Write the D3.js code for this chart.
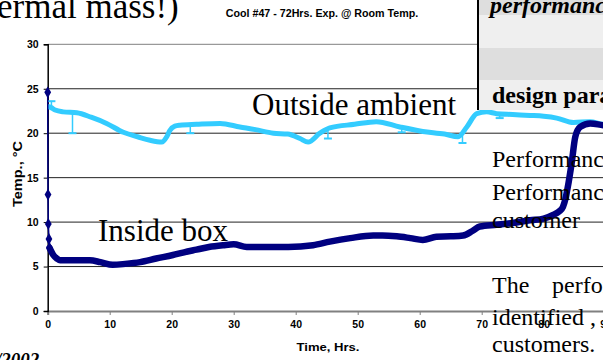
<!DOCTYPE html>
<html><head><meta charset="utf-8">
<script src="https://cdn.jsdelivr.net/npm/d3@7"></script>
<style>html,body{margin:0;padding:0;background:#fff;overflow:hidden}</style>
</head><body>
<svg id="c" width="603" height="360"></svg>
<script>
// ---- data ----
const title = "Cool #47 - 72Hrs. Exp. @ Room Temp.";
const xTicks = [0,10,20,30,40,50,60,70,80,90,100];
const yTicks = [0,5,10,15,20,25,30];
const outsideT = [0,0.5,1.2,2.5,4.7,7,9.5,12.2,14.5,16.5,18.4,19.2,19.7,20.5,21.3,24,27.8,31,33.5,36.4,38.7,40.7,42,43.9,45.5,49.5,53,56.8,60.5,64,66.2,67.6,69.2,70.8,72.4,75,77.8,80,82.1,84.8,87.5,89.6,92,95];
const outsideV = [23.0,22.9,22.6,22.4,22.3,21.8,21.1,20.1,19.6,19.2,19.0,19.6,20.3,20.8,20.9,21.0,21.1,20.7,20.4,20.0,19.9,19.4,19.0,20.0,20.6,21.0,21.3,20.7,20.2,19.9,19.6,20.7,22.2,22.4,22.2,22.1,22.0,21.9,21.7,21.2,21.3,21.0,21.0,21.0];
const errT    = [0.6,4,23,45.2,57.1,66.9,72.9];
const errFrom = [23.0,22.3,20.9,20.4,20.8,19.7,22.2];
const errTo   = [23.6,20.0,20.0,19.4,20.1,18.9,21.7];
const insideT = [0,0.05,0.1,0.2,0.3,0.5,0.9,1.5,2,4,6.8,8.5,10.5,12.5,14.9,17.5,20.2,22,24,26,28.3,30,32.1,35,38.8,42.8,45.5,48.8,52.5,54,56.3,58.5,60.5,62.7,65,67,68.5,69.7,72.4,75,77.8,80,81.5,82.5,83.1,83.5,83.9,84.5,85.1,85.9,87.5,89.6,92,95];
const insideV = [24.6,13.1,9.8,8.1,7.1,6.8,6.3,5.9,5.7,5.7,5.7,5.5,5.2,5.3,5.5,5.9,6.3,6.6,6.9,7.2,7.4,7.5,7.2,7.2,7.2,7.4,7.8,8.2,8.5,8.5,8.4,8.2,8.0,8.35,8.4,8.5,9.0,9.5,9.7,9.9,10.2,10.4,10.8,11.2,11.7,12.6,14.0,16.6,19.6,20.7,21.1,20.9,20.8,20.7];
const markerCount = 5;
const labelOutside = "Outside ambient";
const labelInside = "Inside box";

// ---- layout ----
const svg = d3.select("#c");
const x = d3.scaleLinear().domain([0,100]).range([47.7,667.7]);
const y = d3.scaleLinear().domain([0,30]).range([311,44.3]);
const sans = "'Liberation Sans', Arial, sans-serif";
const serif = "'Liberation Serif', 'Times New Roman', serif";
const navy = "#000080", cyan = "#33CCFF";

// gridlines
svg.append("g").selectAll("line").data(yTicks.filter(d=>d>0)).join("line")
  .attr("x1", x(0)).attr("x2", x(100)).attr("y1", d=>y(d)).attr("y2", d=>y(d))
  .attr("stroke", d=>d===30?"#808080":"#222").attr("stroke-width",1);

// axes
const gx = svg.append("g").attr("transform",`translate(0,${y(0)})`)
  .call(d3.axisBottom(x).tickValues(xTicks).tickSize(4).tickPadding(6));
gx.select(".domain").attr("stroke","#808080").attr("stroke-width",2);
gx.selectAll(".tick line").attr("stroke","#808080");
gx.selectAll("text").attr("font-family",sans).attr("font-weight","bold").attr("font-size",10.5).attr("fill","#000");
const gy = svg.append("g").attr("transform",`translate(${x(0)},0)`)
  .call(d3.axisLeft(y).tickValues(yTicks).tickSize(4).tickPadding(5));
gy.select(".domain").attr("stroke","#000").attr("stroke-width",1.5);
gy.selectAll(".tick line").attr("stroke","#000");
gy.selectAll("text").attr("font-family",sans).attr("font-weight","bold").attr("font-size",10.5).attr("fill","#000");

// titles
svg.append("text").attr("x",322).attr("y",17).attr("text-anchor","middle")
  .attr("font-family",sans).attr("font-weight","bold").attr("font-size",10.7).text(title);
svg.append("text").attr("transform","translate(22,174) rotate(-90)").attr("text-anchor","middle")
  .attr("font-family",sans).attr("font-weight","bold").attr("font-size",12.5)
  .attr("textLength",66).attr("lengthAdjust","spacingAndGlyphs").text("Temp., °C");
svg.append("text").attr("x",328).attr("y",351).attr("text-anchor","middle")
  .attr("font-family",sans).attr("font-weight","bold").attr("font-size",11.5)
  .attr("textLength",63).attr("lengthAdjust","spacingAndGlyphs").text("Time, Hrs.");

// outside series
const lineO = d3.line().x((d,i)=>x(outsideT[i])).y(d=>y(d)).curve(d3.curveMonotoneX);
svg.append("path").attr("d",lineO(outsideV)).attr("fill","none").attr("stroke",cyan)
  .attr("stroke-width",5).attr("stroke-linejoin","round");
const eb = svg.append("g").attr("stroke",cyan).attr("stroke-width",1.5);
errT.forEach((t,i)=>{
  eb.append("line").attr("x1",x(t)).attr("x2",x(t)).attr("y1",y(errFrom[i])).attr("y2",y(errTo[i]));
  eb.append("line").attr("x1",x(t)-4).attr("x2",x(t)+4).attr("y1",y(errTo[i])).attr("y2",y(errTo[i])).attr("stroke-width",2);
});

// inside series
const lineI = d3.line().x((d,i)=>x(insideT[i])).y(d=>y(d));
svg.append("path").attr("d",lineI(insideV)).attr("fill","none").attr("stroke",navy).attr("stroke-width",1.5);
const thickT = insideT.slice(markerCount-1), thickV = insideV.slice(markerCount-1);
const lineI2 = d3.line().x((d,i)=>x(thickT[i])).y(d=>y(d)).curve(d3.curveMonotoneX);
svg.append("path").attr("d",lineI2(thickV)).attr("fill","none").attr("stroke",navy)
  .attr("stroke-width",6.5).attr("stroke-linejoin","round").attr("stroke-linecap","round");
svg.append("g").selectAll("path").data(insideV.slice(0,markerCount)).join("path")
  .attr("d", d3.symbol().type(d3.symbolDiamond).size(40))
  .attr("transform",(d,i)=>`translate(${x(insideT[i])},${y(d)})`).attr("fill",navy);

// series labels
svg.append("text").attr("x",252).attr("y",115).attr("font-family",serif).attr("font-size",31).text(labelOutside);
svg.append("text").attr("x",98).attr("y",241).attr("font-family",serif).attr("font-size",31).text(labelInside);

// overlapping slide content
svg.append("text").attr("x",-3).attr("y",18).attr("font-family",serif).attr("font-size",35).text("ermal mass!)");
svg.append("text").attr("x",-4).attr("y",366).attr("font-family",serif).attr("font-style","italic").attr("font-weight","bold").attr("font-size",19).text("/2002");

const bands = [[0,15,"#dedede"],[15,48,"#efefef"],[48,80,"#dedede"],[80,110,"#efefef"]];
svg.append("g").selectAll("rect").data(bands).join("rect")
  .attr("x",478).attr("y",d=>d[0]).attr("width",130).attr("height",d=>d[1]-d[0]).attr("fill",d=>d[2]);
svg.append("line").attr("x1",478).attr("x2",478).attr("y1",0).attr("y2",110).attr("stroke","#000").attr("stroke-width",2);
svg.append("text").attr("x",490).attr("y",13).attr("font-family",serif).attr("font-style","italic").attr("font-weight","bold").attr("font-size",24).text("performance");
svg.append("text").attr("x",492).attr("y",103).attr("font-family",serif).attr("font-weight","bold").attr("font-size",24).text("design parameters");

const body = [["Performance",167],["Performance",200],["customer",228],["identified ,",325],["customers.",352]];
svg.append("g").selectAll("text").data(body).join("text")
  .attr("x",492).attr("y",d=>d[1]).attr("font-family",serif).attr("font-size",24).text(d=>d[0]);
svg.append("text").attr("x",492).attr("y",293).attr("font-family",serif).attr("font-size",24).text("The");
svg.append("text").attr("x",552).attr("y",293).attr("font-family",serif).attr("font-size",24).text("performance");
</script>
</body></html>
